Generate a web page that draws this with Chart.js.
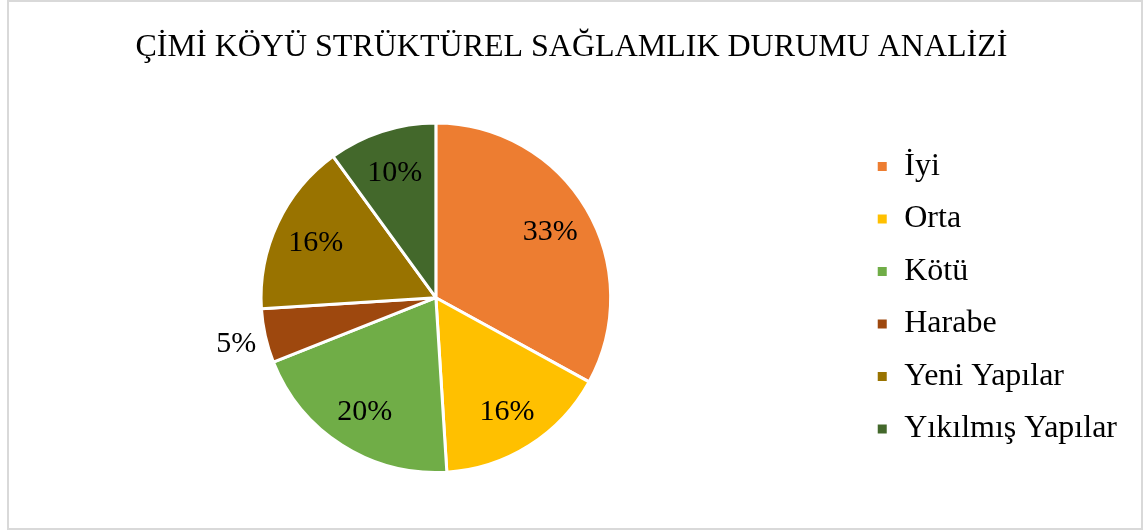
<!DOCTYPE html>
<html>
<head>
<meta charset="utf-8">
<script src="https://cdn.jsdelivr.net/npm/chart.js@4/dist/chart.umd.min.js"></script>
<style>
  html, body { margin: 0; padding: 0; background: #fff; }
  #cerceve {
    position: absolute; left: 7px; top: 0; width: 1136px; height: 530px;
    box-sizing: border-box; border: 2px solid #d9d9d9;
  }
  #grafik { position: absolute; left: 0; top: 0; }
</style>
</head>
<body>
<div id="cerceve"></div>
<canvas id="grafik" width="1148" height="531"></canvas>
<script>
// veriler
var kategoriler = ['İyi', 'Orta', 'Kötü', 'Harabe', 'Yeni Yapılar', 'Yıkılmış Yapılar'];
var yuzdeler = [33, 16, 20, 5, 16, 10];
var renkler = ['#ED7D31', '#FFC000', '#70AD47', '#9E480E', '#997300', '#43682B'];
var baslik = 'ÇİMİ KÖYÜ STRÜKTÜREL SAĞLAMLIK DURUMU ANALİZİ';

var yazi = '"Liberation Serif", "Times New Roman", serif';

// dilim etiketleri (kucuk dilimler disarida)
var etiketEklentisi = {
  id: 'etiketler',
  afterDatasetsDraw: function(chart) {
    var ctx = chart.ctx;
    var meta = chart.getDatasetMeta(0);
    ctx.save();
    ctx.font = '30px ' + yazi;
    ctx.fillStyle = '#000';
    ctx.textAlign = 'center';
    ctx.textBaseline = 'middle';
    meta.data.forEach(function(arc, i) {
      var p = arc.getProps(['x', 'y', 'startAngle', 'endAngle', 'outerRadius'], true);
      var orta = (p.startAngle + p.endAngle) / 2;
      var oran = yuzdeler[i] < 8 ? 1.17 : 0.76;
      var x = p.x + Math.cos(orta) * p.outerRadius * oran;
      var y = p.y + Math.sin(orta) * p.outerRadius * oran + 2;
      ctx.fillText(yuzdeler[i] + '%', x, y);
    });
    ctx.restore();
  }
};

var grafik = new Chart(document.getElementById('grafik'), {
  type: 'pie',
  data: {
    labels: kategoriler,
    datasets: [{
      data: yuzdeler,
      backgroundColor: renkler,
      borderColor: '#fff',
      borderWidth: 3
    }]
  },
  options: {
    responsive: false,
    animation: false,
    devicePixelRatio: 1,
    layout: { padding: { left: 16, right: 21, top: 0, bottom: 57 } },
    plugins: {
      title: {
        display: true,
        text: baslik,
        color: '#000',
        font: { family: yazi, size: 32, weight: 'normal', lineHeight: 1.2 },
        padding: { top: 28, bottom: 55 }
      },
      legend: {
        position: 'right',
        fullSize: false,
        labels: {
          color: '#000',
          font: { family: yazi, size: 32 },
          boxWidth: 12,
          boxHeight: 12,
          padding: 20.5
        }
      },
      tooltip: { enabled: false }
    }
  },
  plugins: [etiketEklentisi]
});
</script>
</body>
</html>
